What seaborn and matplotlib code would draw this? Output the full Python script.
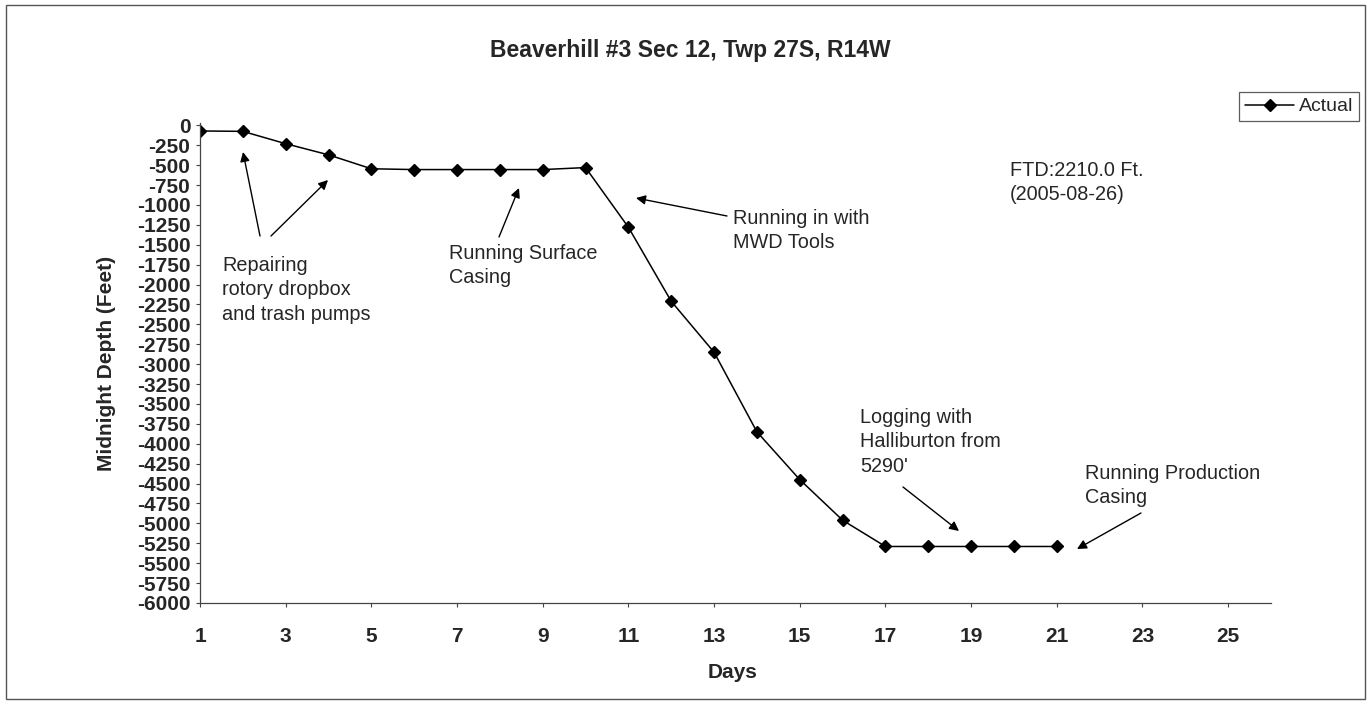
import matplotlib
matplotlib.use("Agg")
import matplotlib.pyplot as plt
import matplotlib.patches as patches
import seaborn as sns
import pandas as pd

# midnight depth per day
days = list(range(1, 22))
depth = [-70, -75, -230, -370, -545, -555, -555, -555, -555, -530,
         -1280, -2210, -2850, -3850, -4450, -4960,
         -5290, -5290, -5290, -5290, -5290]
x_ticks = list(range(1, 27, 2))
y_ticks = list(range(0, -6001, -250))

W, H = 1371, 704

sns.set_theme(style="white")
plt.rcParams['font.family'] = ['Liberation Sans', 'DejaVu Sans']

df = pd.DataFrame({"Days": days, "Depth": depth})

fig = plt.figure(figsize=(W / 100, H / 100), dpi=100)
ax = fig.add_axes([200 / W, 1 - 603 / H, (1271 - 200) / W, (603 - 123) / H])

sns.lineplot(data=df, x="Days", y="Depth", marker="D", color="black",
             markersize=5.8, markeredgecolor="black", markeredgewidth=1.0,
             linewidth=1.1, label="Actual", ax=ax)

ax.set_xlim(1, 26)
ax.set_ylim(-6000, 30)
ax.set_xticks(x_ticks)
ax.set_yticks(y_ticks)
ax.set_yticklabels([str(v) for v in y_ticks])
for lab in ax.get_xticklabels() + ax.get_yticklabels():
    lab.set_fontweight("bold")
    lab.set_fontsize(15)
ax.tick_params(axis="both", direction="out", length=3, width=0.8,
               color="#444444", left=True, bottom=True)
ax.tick_params(axis="x", pad=14)
ax.tick_params(axis="y", pad=4)

sns.despine(ax=ax, top=True, right=True)
for s in ["left", "bottom"]:
    ax.spines[s].set_color("#444444")
    ax.spines[s].set_linewidth(0.9)

ax.set_xlabel("")
ax.set_ylabel("")
fig.text(733 / W, 1 - 673 / H, "Days", ha="center", va="center",
         fontsize=15, fontweight="bold")
fig.text(107 / W, 1 - 363 / H, "Midnight Depth (Feet)", ha="center",
         va="center", rotation=90, fontsize=15, fontweight="bold")
fig.text(690 / W, 1 - 50 / H, "Beaverhill #3 Sec 12, Twp 27S, R14W",
         ha="center", va="center", fontsize=16.5, fontweight="bold")

# legend top right
ax.get_legend().remove()
h, l = ax.get_legend_handles_labels()
leg = fig.legend(h, l, loc="upper right", bbox_to_anchor=(1359 / W, 1 - 92 / H),
                 frameon=True, fancybox=False, fontsize=14, borderpad=0.3,
                 handlelength=2.5, handletextpad=0.25, borderaxespad=0)
leg.get_frame().set_edgecolor("#333333")
leg.get_frame().set_linewidth(0.9)


def note(text, x, y, **kw):
    fig.text(x / W, 1 - y / H, text, ha="left", va="top", fontsize=14.3,
             linespacing=1.35, **kw)


def arrow(x0, y0, x1, y1):
    ax.annotate("", xy=(x1, H - y1), xytext=(x0, H - y0),
                xycoords="figure pixels", textcoords="figure pixels",
                arrowprops=dict(arrowstyle="-|>", color="black", lw=1.0,
                                mutation_scale=14, shrinkA=0, shrinkB=0))


note("Repairing\nrotory dropbox\nand trash pumps", 222, 256)
arrow(260, 236, 243, 152)
arrow(271, 236, 328, 180)

note("Running Surface\nCasing", 449, 244)
arrow(499, 237, 519, 188)

note("Running in with\nMWD Tools", 733, 209)
arrow(727, 216, 636, 198)

note("FTD:2210.0 Ft.\n(2005-08-26)", 1010, 161)

note("Logging with\nHalliburton from\n5290'", 860, 408)
arrow(903, 487, 959, 531)

note("Running Production\nCasing", 1085, 464)
arrow(1141, 513, 1077, 549)

# outer frame
fig.patches.append(patches.Rectangle((6 / W, 5 / H), (1365 - 6) / W, (699 - 5) / H,
                                     transform=fig.transFigure, fill=False,
                                     edgecolor="#555555", linewidth=1.0))

fig.savefig("out.png", dpi=100)
